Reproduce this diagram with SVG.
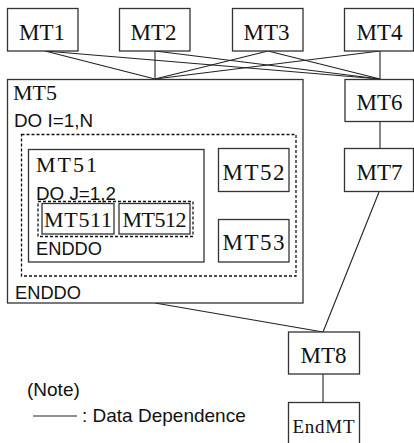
<svg xmlns="http://www.w3.org/2000/svg" width="414" height="443" viewBox="0 0 414 443">
<style>
.box{fill:#fff;stroke:#333;stroke-width:1.3}
.dash{fill:none;stroke:#111;stroke-width:1.3;stroke-dasharray:3,2}
.edge{stroke:#222;stroke-width:1.1;fill:none}
</style>
<rect width="414" height="443" fill="#fff"/>
<g id="connectors">
<line class="edge" x1="45" y1="51" x2="155" y2="79"/>
<line class="edge" x1="45" y1="51" x2="380" y2="79"/>
<line class="edge" x1="155" y1="51" x2="155" y2="79"/>
<line class="edge" x1="155" y1="51" x2="380" y2="79"/>
<line class="edge" x1="268" y1="51" x2="155" y2="79"/>
<line class="edge" x1="268" y1="51" x2="380" y2="79"/>
<line class="edge" x1="380" y1="51" x2="155" y2="79"/>
<line class="edge" x1="380" y1="51" x2="380" y2="79"/>
<line class="edge" x1="380" y1="121" x2="380" y2="148"/>
<line class="edge" x1="253" y1="192" x2="253" y2="219"/>
<line class="edge" x1="155" y1="303" x2="323" y2="332"/>
<line class="edge" x1="379" y1="192" x2="323" y2="332"/>
<line class="edge" x1="323" y1="374" x2="323" y2="402"/>
</g>
<g font-family="'Liberation Serif', 'Times New Roman', serif" fill="#111" text-anchor="middle" font-size="23">
<g id="MT1"><rect class="box" x="7.5" y="8.5" width="70.5" height="42.5"/><text x="42" y="39.5">MT1</text></g>
<g id="MT2"><rect class="box" x="119.5" y="8.5" width="70.5" height="42.5"/><text x="153.5" y="39.5">MT2</text></g>
<g id="MT3"><rect class="box" x="232.5" y="8.5" width="70.5" height="42.5"/><text x="266.5" y="39.5">MT3</text></g>
<g id="MT4"><rect class="box" x="344.5" y="8.5" width="69" height="42.5"/><text x="379.5" y="39.5">MT4</text></g>
<g id="MT5">
<rect class="box" x="7.5" y="79.5" width="295.5" height="223.5"/>
<text x="13" y="100" text-anchor="start" font-size="22">MT5</text>
<text x="14" y="127" text-anchor="start" font-family="'Liberation Sans', Arial, sans-serif" font-size="18" textLength="79" lengthAdjust="spacingAndGlyphs">DO I=1,N</text>
<rect class="dash" x="21.5" y="134.5" width="274.5" height="141.5"/>
<text x="15" y="298.5" text-anchor="start" font-family="'Liberation Sans', Arial, sans-serif" font-size="18.5" textLength="66" lengthAdjust="spacingAndGlyphs">ENDDO</text>
</g>
<g id="MT51">
<rect class="box" x="28.5" y="149.5" width="175.5" height="112.5"/>
<text x="36" y="171.5" text-anchor="start" font-size="22" textLength="61" lengthAdjust="spacing">MT51</text>
<text x="36" y="200" text-anchor="start" font-family="'Liberation Sans', Arial, sans-serif" font-size="18.5" textLength="80" lengthAdjust="spacingAndGlyphs">DO J=1,2</text>
<rect class="dash" x="38" y="201.5" width="155" height="35"/>
<text x="36" y="255" text-anchor="start" font-family="'Liberation Sans', Arial, sans-serif" font-size="18.5" textLength="66" lengthAdjust="spacingAndGlyphs">ENDDO</text>
</g>
<g id="MT511"><rect class="box" x="42" y="203.5" width="72" height="30.5"/><text x="78" y="227" font-size="22" textLength="68" lengthAdjust="spacing">MT511</text></g>
<g id="MT512"><rect class="box" x="119" y="203.5" width="71" height="30.5"/><text x="154.5" y="227" font-size="22" textLength="64" lengthAdjust="spacing">MT512</text></g>
<g id="MT52"><rect class="box" x="218.5" y="148.5" width="70.5" height="43"/><text x="253.5" y="179.5" textLength="62" lengthAdjust="spacing">MT52</text></g>
<g id="MT53"><rect class="box" x="218.5" y="219.5" width="70.5" height="42.5"/><text x="253.5" y="250" textLength="62" lengthAdjust="spacing">MT53</text></g>
<g id="MT6"><rect class="box" x="345" y="79.5" width="68.5" height="42"/><text x="379.5" y="110">MT6</text></g>
<g id="MT7"><rect class="box" x="344.5" y="148.5" width="69" height="43"/><text x="379.5" y="179.5">MT7</text></g>
<g id="MT8"><rect class="box" x="288.5" y="332" width="71" height="42"/><text x="323.5" y="362.5">MT8</text></g>
<g id="EndMT"><rect class="box" x="288.5" y="402.5" width="71" height="50"/><text x="323.5" y="432.5" font-size="19" textLength="62" lengthAdjust="spacing">EndMT</text></g>
</g>
<g id="legend" font-family="'Liberation Sans', Arial, sans-serif" font-size="19" fill="#111">
<text x="27" y="396">(Note)</text>
<line class="edge" x1="33" y1="416" x2="77" y2="416"/>
<text x="82" y="421.5">: Data Dependence</text>
</g>
</svg>
